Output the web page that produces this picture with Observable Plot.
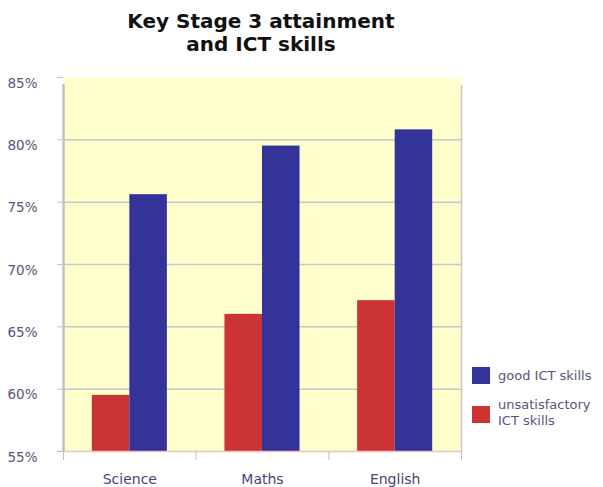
<!DOCTYPE html>
<html>
<head>
<meta charset="utf-8">
<script src="https://cdn.jsdelivr.net/npm/d3@7"></script>
<script src="https://cdn.jsdelivr.net/npm/@observablehq/plot@0.6"></script>
<style>
  html, body { margin: 0; padding: 0; background: #ffffff; }
  #wrap { position: relative; width: 603px; height: 487px; overflow: hidden; }
  #title { position: absolute; left: 0; top: 10px; width: 522px; text-align: center;
    font-family: "DejaVu Sans", sans-serif; font-weight: bold; font-size: 20px; line-height: 23px; color: #111; }
  #chart { position: absolute; left: 0; top: 62px; }
  .legend { position: absolute; left: 472px; font-family: "DejaVu Sans", sans-serif; font-size: 13px; color: #55557a; }
  .legend .sw { position: absolute; left: 0; width: 18px; height: 17px; }
  .legend .lb { position: absolute; left: 26px; line-height: 16px; white-space: nowrap; }
</style>
</head>
<body>
<div id="wrap">
  <div id="title">Key Stage 3 attainment<br>and ICT skills</div>
  <div id="chart"></div>
  <div id="legend"></div>
</div>
<script>
const subjects = ["Science", "Maths", "English"];
const seriesNames = ["unsatisfactory ICT skills", "good ICT skills"];
const unsatisfactory = [59.5, 66.0, 67.1];
const good = [75.6, 79.5, 80.8];
const yTicks = [55, 60, 65, 70, 75, 80, 85];
const colors = ["#cc3333", "#333399"];

const data = subjects.flatMap((s, i) => [
  {subject: s, i, series: seriesNames[0], k: 0, value: unsatisfactory[i]},
  {subject: s, i, series: seriesNames[1], k: 1, value: good[i]}
]);

const bw = 0.283; // bar width as fraction of category
const W = 603, H = 425, ML = 63, MR = 142, MT = 15, MB = 36;

const chart = Plot.plot({
  width: W, height: H,
  marginLeft: ML, marginRight: MR, marginTop: MT, marginBottom: MB,
  style: {fontFamily: "DejaVu Sans, sans-serif", fontSize: "13.5px", background: "transparent"},
  x: {type: "linear", domain: [-0.5, subjects.length - 0.5], axis: null},
  y: {domain: [55, 85], axis: null},
  color: {domain: seriesNames, range: colors},
  marks: [
    Plot.frame({fill: "#ffffcc", stroke: "none"}),
    Plot.ruleY(yTicks.filter(t => t > 55 && t < 85), {stroke: "#c6c6ce", strokeWidth: 1.5}),
    Plot.ruleX([subjects.length - 0.5], {y1: 55, y2: 85, stroke: "#c8c8c8", strokeWidth: 1.5, insetBottom: -8}),
    Plot.rectY(data, {
      x1: d => d.i + (d.k === 0 ? -bw : 0),
      x2: d => d.i + (d.k === 0 ? 0 : bw),
      y1: 55, y2: "value", fill: "series"
    }),
    Plot.ruleY([55], {stroke: "#f2c2c2", strokeWidth: 1.5, insetLeft: -6}),
    Plot.ruleX([-0.5], {y1: 55, y2: 85, stroke: "#c0c0c0", strokeWidth: 2.5, insetBottom: -7}),
    Plot.axisY({ticks: yTicks, tickSize: 6, tickFormat: () => "", color: "#c0c0c0", label: null}),
    Plot.axisY({ticks: yTicks, tickSize: 0, tickPadding: 26, dy: 6, tickFormat: d => d + "%", color: "#55557a", label: null}),
    Plot.axisX({ticks: d3.range(subjects.length + 1).map(v => v - 0.5), tickSize: 9, tickFormat: () => "", color: "#c0c0c0", label: null}),
    Plot.axisX({ticks: d3.range(subjects.length), tickSize: 0, tickPadding: 23, fontSize: 14, tickFormat: i => subjects[i], color: "#44447a", label: null})
  ]
});
document.getElementById("chart").appendChild(chart);

// legend (good first, then unsatisfactory)
const legend = document.getElementById("legend");
const legendItems = [
  {color: colors[1], top: 367, lines: ["good ICT skills"], textTop: 368},
  {color: colors[0], top: 406, lines: ["unsatisfactory", "ICT skills"], textTop: 397}
];
legendItems.forEach(it => {
  const g = document.createElement("div");
  g.className = "legend";
  g.style.top = "0px";
  const sw = document.createElement("div");
  sw.className = "sw"; sw.style.top = it.top + "px"; sw.style.background = it.color;
  const lb = document.createElement("div");
  lb.className = "lb"; lb.style.top = it.textTop + "px"; lb.innerHTML = it.lines.join("<br>");
  g.appendChild(sw); g.appendChild(lb);
  legend.appendChild(g);
});
</script>
</body>
</html>
